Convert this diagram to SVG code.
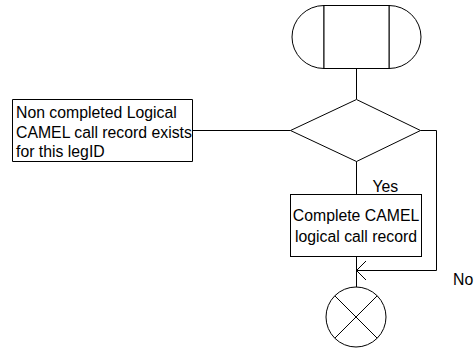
<svg xmlns="http://www.w3.org/2000/svg" width="475" height="353" viewBox="0 0 475 353">
<style>
.s{fill:#fff;stroke:#000;stroke-width:1}
.l{fill:none;stroke:#000;stroke-width:1}
text{font-family:"Liberation Sans",Arial,sans-serif;font-size:15.8px;fill:#000}
</style>
<rect width="475" height="353" fill="#fff"/>
<g id="connectors">
<path class="l" d="M356.5 68V99"/>
<path class="l" d="M356.5 161V194"/>
<path class="l" d="M192.5 130.5H290.5"/>
<path class="l" d="M420.5 130.5H436.5V270.5H356.5"/>
<path class="l" d="M366 261L356.5 270.5L366 280"/>
<path class="l" d="M356.5 256V287"/>
</g>
<g id="start">
<path class="s" d="M324 5.5A32 31.5 0 0 0 324 68.5Z"/>
<path class="s" d="M389 5.5A32 31.5 0 0 1 389 68.5Z"/>
<rect class="s" x="324" y="5.5" width="65" height="63"/>
</g>
<g id="decision">
<path class="s" d="M356.5 99.5L420.5 130.5L356.5 161.5L290.5 130.5Z"/>
</g>
<g id="comment">
<path class="l" d="M192.5 99.5H12.5V161.5H192.5V99.5"/>
<text x="16" y="118.3">Non completed Logical</text>
<text x="16" y="138">CAMEL call record exists</text>
<text x="16" y="157">for this legID</text>
</g>
<g id="yes-label"><text x="372.5" y="191.5">Yes</text></g>
<g id="process">
<rect class="s" x="290.5" y="194.5" width="131" height="62"/>
<text x="356" y="221" text-anchor="middle">Complete CAMEL</text>
<text x="356" y="241.5" text-anchor="middle">logical call record</text>
</g>
<g id="no-label"><text x="453" y="284.5">No</text></g>
<g id="end">
<circle class="s" cx="356" cy="317" r="30"/>
<path class="l" d="M334.8 295.8L377.2 338.2M377.2 295.8L334.8 338.2"/>
</g>
</svg>
